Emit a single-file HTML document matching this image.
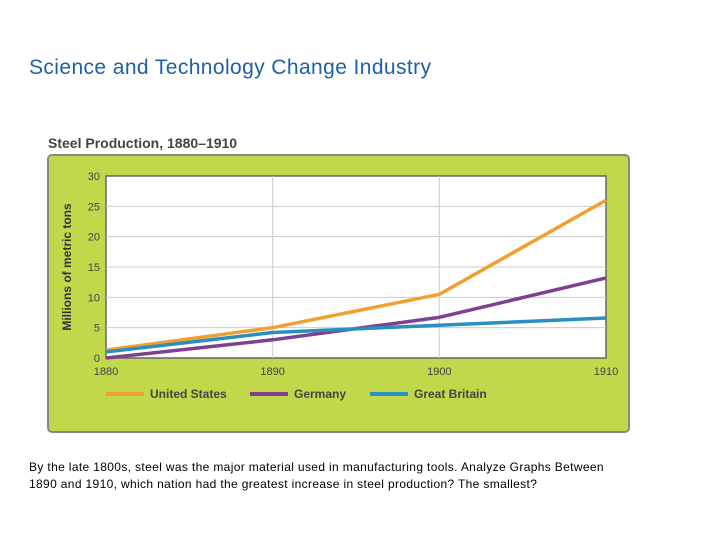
<!DOCTYPE html>
<html><head><meta charset="utf-8"><style>
body{margin:0;background:#fff;width:720px;height:540px;overflow:hidden;font-family:"Liberation Sans",sans-serif;position:relative}
.h{position:absolute;left:29px;top:56px;font-size:21px;letter-spacing:0.4px;color:#1f5fa8}
.c{position:absolute;left:29px;top:459px;font-size:12px;line-height:17px;color:#000;white-space:nowrap;letter-spacing:0.35px}
</style></head><body>
<div class="h">Science and Technology Change Industry</div>
<svg id="s" width="720" height="540" style="position:absolute;left:0;top:0">
<text x="48" y="148" font-size="14" font-weight="bold" fill="#444">Steel Production, 1880–1910</text>
<rect x="48" y="155" width="581" height="277" rx="4" fill="#c0d84a" stroke="#888" stroke-width="2"/>
<rect x="106" y="176" width="500" height="182" fill="#fff" stroke="#666" stroke-width="1.5"/>
<text transform="translate(71,267) rotate(-90)" text-anchor="middle" font-size="12" font-weight="bold" fill="#333">Millions of metric tons</text>
<g id="g"></g>
</svg>
<div class="c">By the late 1800s, steel was the major material used in manufacturing tools. Analyze Graphs Between<br>1890 and 1910, which nation had the greatest increase in steel production? The smallest?</div>
<script>
const years=[1880,1890,1900,1910];
const yTicks=[0,5,10,15,20,25,30];
const us=[1.3,5,10.5,26];
const germany=[0,3,6.7,13.2];
const britain=[1,4.2,5.4,6.6];
const names=["United States","Germany","Great Britain"];
const NS="http://www.w3.org/2000/svg",g=document.getElementById('g');
const X=v=>106+(v-1880)/30*500, Y=v=>358-v/30*182;
function mk(t,a,txt){const e=document.createElementNS(NS,t);for(const k in a)e.setAttribute(k,a[k]);if(txt!==undefined)e.textContent=txt;g.appendChild(e);return e;}
yTicks.forEach(v=>{
 if(v>0&&v<30){const l=mk('line',{x1:106,x2:606,y1:Y(v),y2:Y(v),stroke:'#ccc'});}
 const t=mk('text',{x:100,y:Y(v)+4,'text-anchor':'end','font-size':11,fill:'#444'},v);
 
});
years.forEach(v=>{
 if(v>1880&&v<1910){const l=mk('line',{x1:X(v),x2:X(v),y1:176,y2:358,stroke:'#ccc'});}
 const t=mk('text',{x:X(v),y:375,'text-anchor':'middle','font-size':11,fill:'#444'},v);
 
});
const series=[[us,'#f0a030'],[germany,'#80408f'],[britain,'#2a8fc0']];
series.forEach((s,i)=>{
 const p=mk('polyline',{points:s[0].map((v,j)=>X(years[j])+','+Y(v)).join(' '),fill:'none',stroke:s[1],'stroke-width':3.5,'stroke-linejoin':'round'});
 
 
});
const lx=[106,250,370];
series.forEach((s,i)=>{
 const l=mk('line',{x1:lx[i],x2:lx[i]+38,y1:394,y2:394,stroke:s[1],'stroke-width':4});
 
 const t=mk('text',{x:lx[i]+44,y:398,'font-size':12,'font-weight':'bold',fill:'#444'},names[i]);
 
});
</script>
</body></html>
